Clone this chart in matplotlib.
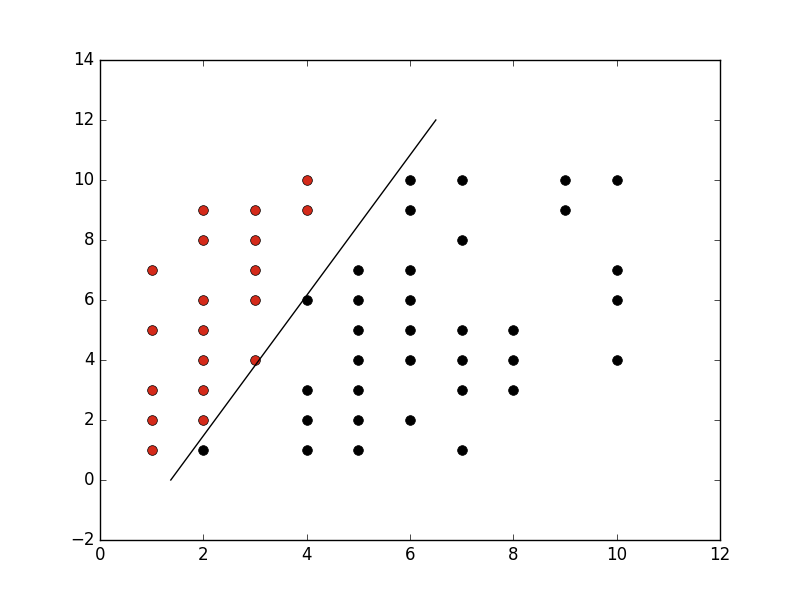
import matplotlib
matplotlib.use('Agg')
from matplotlib import pyplot as plt

plt.style.use('classic')

red_x = [1, 1, 1, 1, 1, 2, 2, 2, 2, 2, 2, 2, 3, 3, 3, 3, 3, 4, 4]
red_y = [7, 5, 3, 2, 1, 9, 8, 6, 5, 4, 3, 2, 9, 8, 7, 6, 4, 10, 9]

black_x = [2, 4, 4, 4, 4, 5, 5, 5, 5, 5, 5, 5, 6, 6, 6, 6, 6, 6, 6,
           7, 7, 7, 7, 7, 7, 8, 8, 8, 9, 9, 10, 10, 10, 10]
black_y = [1, 6, 3, 2, 1, 7, 6, 5, 4, 3, 2, 1, 10, 9, 7, 6, 5, 4, 2,
           10, 8, 5, 4, 3, 1, 5, 4, 3, 10, 9, 10, 7, 6, 4]

line_x = [1.37, 6.5]
line_y = [0, 12]

fig = plt.figure(figsize=(8, 6), dpi=100)
ax = fig.add_subplot(111)
ax.plot(red_x, red_y, 'o', color='#d42a1a', markeredgecolor='k', markersize=7)
ax.plot(black_x, black_y, 'o', color='k', markersize=7)
ax.plot(line_x, line_y, 'k-')
ax.set_xlim(0, 12)
ax.set_ylim(-2, 14)
fig.savefig('out.png', dpi=100, facecolor='white')
